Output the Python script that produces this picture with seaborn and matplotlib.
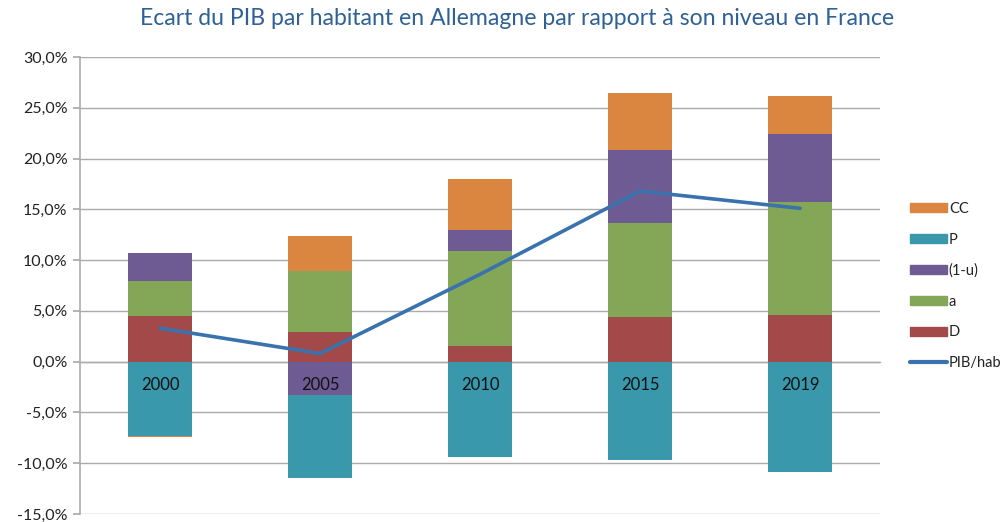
"""Ecart du PIB par habitant Allemagne / France - barres empilees + ligne."""
import matplotlib
matplotlib.use("Agg")
import matplotlib.pyplot as plt
import matplotlib.ticker as mticker
from matplotlib.patches import Patch
from matplotlib.lines import Line2D
import numpy as np
import pandas as pd
import seaborn as sns

years = ["2000", "2005", "2010", "2015", "2019"]

# contributions en points de %
D = [4.5, 2.9, 1.5, 4.35, 4.6]
a = [3.4, 6.0, 9.4, 9.3, 11.1]
one_minus_u = [2.8, -3.3, 2.1, 7.15, 6.7]
P = [-7.3, -8.2, -9.4, -9.7, -10.9]
CC = [-0.1, 3.5, 5.0, 5.7, 3.8]
pib_hab = [3.3, 0.8, 8.6, 16.8, 15.1]

series_names = ["D", "a", "(1-u)", "P", "CC"]
series_values = [D, a, one_minus_u, P, CC]
colors = {
    "D": "#A3494A",
    "a": "#84A657",
    "(1-u)": "#6F5B94",
    "P": "#3A98AD",
    "CC": "#DA8540",
}
line_color = "#3A72AD"
grid_color = "#ABABAB"

sns.set_theme(style="white")
plt.rcParams["font.family"] = ["Lato", "DejaVu Sans"]

fig = plt.figure(figsize=(10.02, 5.22), dpi=100)
ax = fig.add_axes([80 / 1002, 1 - 514 / 522, 800 / 1002, (514 - 57) / 522])

pos_base = np.zeros(len(years))
neg_base = np.zeros(len(years))
for name, vals in zip(series_names, series_values):
    vals = np.array(vals, dtype=float)
    bottom = np.where(vals >= 0, pos_base, neg_base)
    df = pd.DataFrame({"year": years, "value": vals})
    sns.barplot(data=df, x="year", y="value", bottom=bottom, color=colors[name],
                width=0.4, saturation=1, linewidth=0, ax=ax, zorder=2)
    pos_base = pos_base + np.clip(vals, 0, None)
    neg_base = neg_base + np.clip(vals, None, 0)

sns.lineplot(x=np.arange(len(years)), y=pib_hab, color=line_color, linewidth=2.6,
             ax=ax, zorder=3)

# etiquettes d'annee posees sur les barres, juste sous la ligne du zero
for i, year in enumerate(years):
    ax.text(i, -2.3, year, ha="center", va="center", fontsize=12,
            color="#111111", zorder=5)

ax.set_xlim(-0.5, len(years) - 0.5)
ax.set_ylim(-15, 30)
ax.set_yticks(np.arange(-15, 31, 5))
ax.yaxis.set_major_formatter(mticker.FuncFormatter(lambda v, p: f"{v:.1f}%".replace(".", ",")))
ax.grid(axis="y", color=grid_color, linewidth=1)
ax.set_axisbelow(True)
ax.set_xlabel("")
ax.set_ylabel("")

for side in ["top", "right"]:
    ax.spines[side].set_visible(False)
ax.spines["left"].set_color(grid_color)
ax.spines["left"].set_linewidth(1.2)
ax.spines["bottom"].set_position(("data", 0))
ax.spines["bottom"].set_color(grid_color)
ax.spines["bottom"].set_linewidth(1)
ax.spines["bottom"].set_zorder(1)

ax.set_xticks(range(len(years)))
ax.set_xticklabels([])
ax.set_xticks(np.arange(0.5, len(years), 1), minor=True)
ax.tick_params(axis="x", which="major", length=0)
ax.tick_params(axis="x", which="minor", length=5, color=grid_color, direction="out")
ax.tick_params(axis="y", length=5, color=grid_color, direction="out", pad=4,
               labelsize=11.5, labelcolor="#222222", left=True)

fig.text(517 / 1002, 0.965, "Ecart du PIB par habitant en Allemagne par rapport à son niveau en France",
         ha="center", va="center", fontsize=16.6, color="#2E6196")

handles = [Patch(color=colors[n]) for n in ["CC", "P", "(1-u)", "a", "D"]]
handles.append(Line2D([0], [0], color=line_color, linewidth=3))
labels = ["CC", "P", "(1-u)", "a", "D", "PIB/hab"]
fig.legend(handles, labels, loc="center left", bbox_to_anchor=(897 / 1002, 1 - 286 / 522),
           frameon=False, fontsize=10.5, labelspacing=1.15, handlelength=2.5,
           handleheight=0.6, handletextpad=0.15, labelcolor="#222222")

fig.savefig("out.png", dpi=100)
